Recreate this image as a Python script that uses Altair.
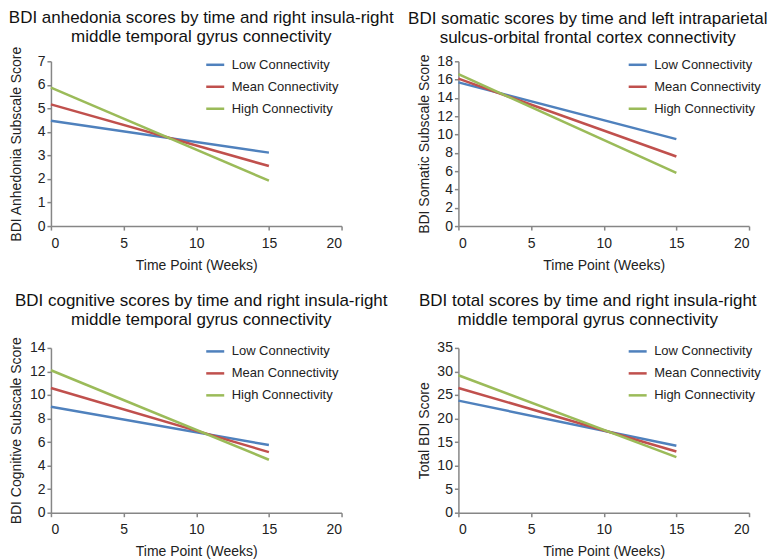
import altair as alt
import pandas as pd

# ---- data ----
weeks = [0, 15]
groups = ["Low Connectivity", "Mean Connectivity", "High Connectivity"]
colors = ["#4f81bd", "#c0504d", "#9bbb59"]

anhedonia_low = [4.47, 3.12]
anhedonia_mean = [5.17, 2.55]
anhedonia_high = [5.88, 1.93]

somatic_low = [15.7, 9.5]
somatic_mean = [16.1, 7.6]
somatic_high = [16.6, 5.8]

cognitive_low = [9.0, 5.75]
cognitive_mean = [10.6, 5.15]
cognitive_high = [12.1, 4.5]

total_low = [23.8, 14.2]
total_mean = [26.5, 13.0]
total_high = [29.2, 11.8]

x_ticks = [0, 5, 10, 15, 20]
anhedonia_ticks = [0, 1, 2, 3, 4, 5, 6, 7]
somatic_ticks = [0, 2, 4, 6, 8, 10, 12, 14, 16, 18]
cognitive_ticks = [0, 2, 4, 6, 8, 10, 12, 14]
total_ticks = [0, 5, 10, 15, 20, 25, 30, 35]

titles = [
    ["BDI anhedonia scores by time and right insula-right", "middle temporal gyrus connectivity"],
    ["BDI somatic scores by time and left intraparietal", "sulcus-orbital frontal cortex connectivity"],
    ["BDI cognitive scores by time and right insula-right", "middle temporal gyrus connectivity"],
    ["BDI total scores by time and right insula-right", "middle temporal gyrus connectivity"],
]
y_titles = [
    "BDI Anhedonia Subscale Score",
    "BDI Somatic Subscale Score",
    "BDI Cognitive Subscale Score",
    "Total BDI Score",
]


def make_df(low, mean, high):
    rows = []
    for g, vals in zip(groups, [low, mean, high]):
        for w, v in zip(weeks, vals):
            rows.append({"week": w, "score": v, "group": g})
    return pd.DataFrame(rows)


def panel(df, title, ytitle, yticks, dx, offset, legend_x):
    return (
        alt.Chart(df)
        .mark_line(strokeWidth=2.5)
        .encode(
            x=alt.X(
                "week:Q",
                scale=alt.Scale(domain=[0, 20], nice=False),
                axis=alt.Axis(values=x_ticks, title="Time Point (Weeks)",
                              labelPadding=6, titlePadding=8),
            ),
            y=alt.Y(
                "score:Q",
                scale=alt.Scale(domain=[yticks[0], yticks[-1]], nice=False),
                axis=alt.Axis(values=yticks, title=ytitle, titleX=-27, labelPadding=2),
            ),
            color=alt.Color(
                "group:N",
                scale=alt.Scale(domain=groups, range=colors),
                legend=alt.Legend(
                    title=None,
                    orient="none",
                    legendX=legend_x,
                    legendY=-7,
                    symbolType="stroke",
                    symbolSize=324,
                    symbolStrokeWidth=2.5,
                    labelFontSize=13,
                    labelColor="#222222",
                    labelOffset=6,
                    rowPadding=4,
                    padding=0,
                ),
            ),
        )
        .properties(
            width=291,
            height=165,
            title=alt.TitleParams(
                text=title,
                fontSize=17,
                fontWeight="normal",
                color="#111111",
                anchor="middle",
                frame="group",
                lineHeight=19,
                offset=offset,
                dx=dx,
            ),
        )
    )


p1 = panel(make_df(anhedonia_low, anhedonia_mean, anhedonia_high), titles[0], y_titles[0], anhedonia_ticks, 5, 0, 154)
p2 = panel(make_df(somatic_low, somatic_mean, somatic_high), titles[1], y_titles[1], somatic_ticks, -16, 7, 169)
p3 = panel(make_df(cognitive_low, cognitive_mean, cognitive_high), titles[2], y_titles[2], cognitive_ticks, 5, 8, 154)
p4 = panel(make_df(total_low, total_mean, total_high), titles[3], y_titles[3], total_ticks, -16, 12, 169)

chart = (
    alt.concat(p1, p2, p3, p4, columns=2, spacing={"row": 122, "column": 117}, bounds="flush")
    .resolve_scale(color="independent")
    .properties(padding={"left": 0, "top": 0, "right": 0, "bottom": 0})
    .configure(font="Liberation Sans")
    .configure_view(stroke=None)
    .configure_axis(
        grid=False,
        domainColor="#868686",
        domainWidth=1.5,
        tickColor="#868686",
        tickWidth=1.5,
        tickSize=4,
        labelFontSize=14,
        labelColor="#222222",
        titleFontSize=14,
        titleFontWeight="normal",
        titleColor="#222222",
    )
)

chart.save("out.html", embed_options={"renderer": "svg", "actions": False})
